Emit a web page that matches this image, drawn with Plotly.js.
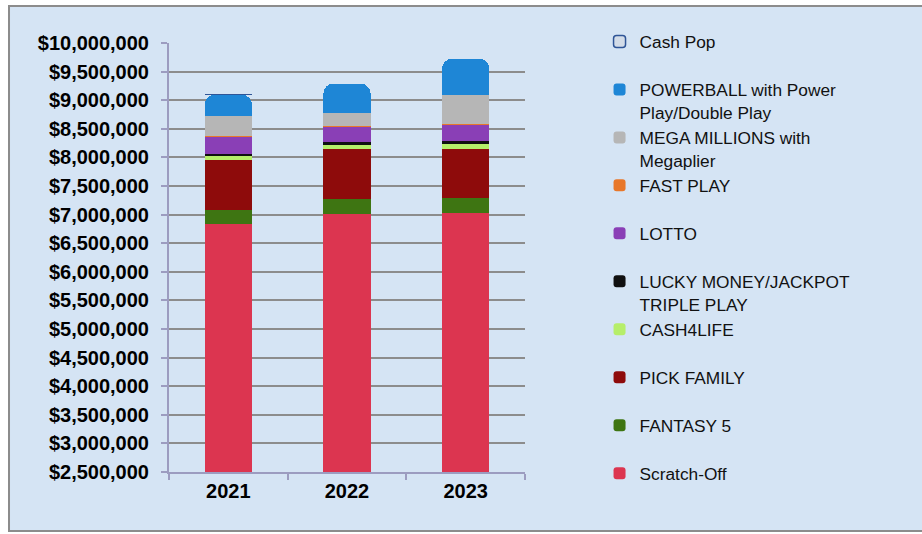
<!DOCTYPE html>
<html>
<head>
<meta charset="utf-8">
<script src="https://cdn.plot.ly/plotly-3.0.1.min.js"></script>
<style>
html,body{margin:0;padding:0;background:#ffffff;}
#chart{width:922px;height:534px;}
</style>
</head>
<body>
<div id="chart"></div>
<script>
// ---- data ----
var years = ['2021', '2022', '2023'];
var scratchOff = [6830000, 7017000, 7035000];
var fantasy5 = [257000, 250000, 250000];
var pickFamily = [862000, 874000, 869000];
var cash4Life = [70000, 78000, 78000];
var luckyMoney = [45000, 47000, 47000];
var lotto = [303000, 274000, 297000];
var fastPlay = [10000, 10000, 10000];
var megaMillions = [340000, 230000, 497000];
var powerball = [379000, 507000, 642000];
var cashPop = [0, 0, 0];

var yTickVals = [2500000, 3000000, 3500000, 4000000, 4500000, 5000000, 5500000,
  6000000, 6500000, 7000000, 7500000, 8000000, 8500000, 9000000, 9500000, 10000000];

var seriesNames = [
  'Scratch-Off',
  'FANTASY 5',
  'PICK FAMILY',
  'CASH4LIFE',
  'LUCKY MONEY/JACKPOT<br>TRIPLE PLAY',
  'LOTTO',
  'FAST PLAY',
  'MEGA MILLIONS with<br>Megaplier',
  'POWERBALL with Power<br>Play/Double Play',
  'Cash Pop'
];
var seriesValues = [scratchOff, fantasy5, pickFamily, cash4Life, luckyMoney,
  lotto, fastPlay, megaMillions, powerball, cashPop];
var seriesColors = ['#DC3550', '#3E7512', '#8E0B0B', '#B6EE6A', '#101010',
  '#8A3FB6', '#E8772A', '#B6B6B6', '#1E86D6', '#D3DCE8'];

var FONT = 'Liberation Sans, Arial, sans-serif';

var traces = seriesNames.map(function (name, i) {
  var label = name.indexOf('<br>') >= 0 ? name : name + '<br>&nbsp;';
  return {
    type: 'bar',
    name: label,
    x: years,
    y: seriesValues[i],
    marker: {
      color: seriesColors[i],
      line: i === 9 ? {color: '#2F5597', width: [1.5, 0, 0]} : {width: 0}
    },
    hoverinfo: 'x+y+name'
  };
});

var layout = {
  width: 922,
  height: 534,
  autosize: false,
  margin: {l: 169, r: 397, t: 10, b: 10, pad: 0},
  paper_bgcolor: '#ffffff',
  plot_bgcolor: 'rgba(0,0,0,0)',
  barmode: 'stack',
  bargap: 0.6,
  barcornerradius: 10,
  font: {family: FONT, color: '#000000'},
  showlegend: true,
  legend: {
    x: 1.2094,
    xanchor: 'left',
    y: 0.9734,
    yanchor: 'top',
    traceorder: 'reversed',
    valign: 'top',
    bgcolor: 'rgba(0,0,0,0)',
    font: {family: FONT, size: 17.3, color: '#111111'}
  },
  xaxis: {
    type: 'category',
    showgrid: false,
    showline: true,
    linecolor: '#9C9CC0',
    linewidth: 2,
    ticks: 'outside',
    tickson: 'boundaries',
    ticklen: 6,
    tickwidth: 2,
    tickcolor: '#9C9CC0',
    tickfont: {family: FONT, size: 20, weight: 'bold', color: '#000000'},
    fixedrange: true
  },
  yaxis: {
    domain: [0.1012, 0.9358],
    range: [2500000, 10000000],
    tickvals: yTickVals,
    tickformat: '$,.0f',
    showgrid: true,
    gridcolor: '#8C8C8C',
    gridwidth: 2,
    zeroline: false,
    showline: true,
    linecolor: '#9C9CC0',
    linewidth: 2,
    ticks: 'outside',
    ticklen: 6,
    tickwidth: 2,
    tickcolor: '#9C9CC0',
    ticklabelstandoff: 8,
    tickfont: {family: FONT, size: 20, weight: 'bold', color: '#000000'},
    fixedrange: true
  },
  shapes: [{
    type: 'rect',
    xref: 'paper', yref: 'paper',
    x0: -0.4494, x1: 2.6,
    y0: -0.0136, y1: 1.0078,
    fillcolor: '#D5E4F4',
    line: {color: '#8C8C8C', width: 2},
    layer: 'below'
  }]
};

Plotly.newPlot('chart', traces, layout, {displayModeBar: false});
</script>
</body>
</html>
